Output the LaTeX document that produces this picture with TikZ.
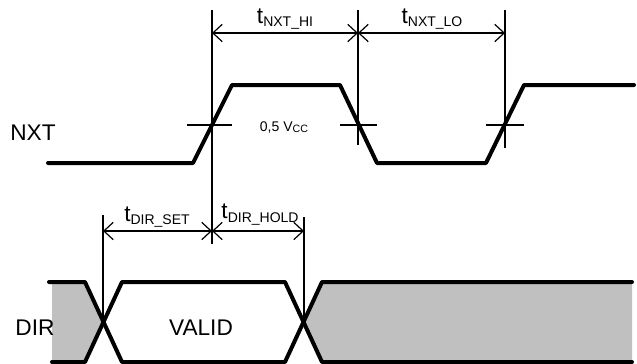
\documentclass[tikz,border=0pt]{standalone}
\usepackage{fontspec}
\setmainfont{Liberation Sans}
\usetikzlibrary{arrows.meta}
\definecolor{dirgray}{RGB}{192,192,192}
\newcommand{\tlabel}[1]{t\raisebox{-2.5pt}{\fontsize{10.5}{12}\selectfont #1}}

\tikzset{every picture/.style={line width=0.75pt}}
\tikzset{
	wave/.style={line width=3pt, line join=round, line cap=round},
	guide/.style={line width=0.9pt},
	dimline/.style={line width=0.9pt, {Straight Barb[length=7pt,width=13pt]}-{Straight Barb[length=7pt,width=13pt]}},
	siglabel/.style={anchor=base, font=\fontsize{17}{20}\selectfont}
}

\begin{document}
\begin{tikzpicture}[x=0.75pt,y=0.75pt,yscale=-1,xscale=1]
	\useasboundingbox (0,0) rectangle (637,364);

	%Shape: DIR undefined regions
	\fill [dirgray] (52,282) -- (85,282) -- (103.5,322) -- (85,362) -- (52,362) -- cycle ;
	\fill [dirgray] (303.5,322) -- (322,282) -- (632,282) -- (632,362) -- (322,362) -- cycle ;

	%Straight Lines: NXT waveform
	\draw [wave] (48,163) -- (193,163) -- (232,85) -- (340,85) -- (377,163) -- (486,163) -- (524,85) -- (634,85) ;
	%Straight Lines: DIR waveform
	\draw [wave] (49,282) -- (85,282) -- (122,362) -- (285,362) -- (322,282) -- (632,282) ;
	\draw [wave] (52,362) -- (85,362) -- (122,282) -- (285,282) -- (322,362) -- (632,362) ;

	%Straight Lines: 0,5 Vcc marks
	\draw [guide] (187,125) -- (232,125) ;
	\draw [guide] (340,125) -- (377,125) ;
	\draw [guide] (486,125) -- (524,125) ;

	%Straight Lines: timing guides
	\draw [guide] (212,10) -- (212,244) ;
	\draw [guide] (358,10) -- (358,145) ;
	\draw [guide] (505,10) -- (505,148) ;
	\draw [guide] (103,215) -- (103,322) ;
	\draw [guide] (304,217) -- (304,322) ;

	%Dimension lines
	\coordinate (hiL) at (212,33) ;
	\coordinate (hiR) at (358,33) ;
	\coordinate (loR) at (505,33) ;
	\coordinate (setL) at (103,231) ;
	\coordinate (setR) at (212,231) ;
	\coordinate (holdR) at (304,231) ;
	\draw [dimline] (hiL) -- (hiR) ;
	\draw [dimline] (hiR) -- (loR) ;
	\draw [dimline] (setL) -- (setR) ;
	\draw [dimline] (setR) -- (holdR) ;

	% Text Node
	\draw (33,140) node [siglabel] (nxt) {NXT};
	% Text Node
	\draw (35,335) node [siglabel] (dir) {DIR};
	% Text Node
	\draw (201,335) node [siglabel] (valid) {VALID};
	% Text Node
	\draw (285,23) node [siglabel] (tnxthi) {\tlabel{NXT\_HI}};
	% Text Node
	\draw (432,23) node [siglabel] (tnxtlo) {\tlabel{NXT\_LO}};
	% Text Node
	\draw (157,221) node [siglabel] (tdirset) {\tlabel{DIR\_SET}};
	% Text Node
	\draw (260,219) node [siglabel] (tdirhold) {\tlabel{DIR\_HOLD}};
	% Text Node
	\draw (284,131) node [anchor=base, font=\fontsize{10.5}{12}\selectfont] (vcc) {0,5 V\raisebox{-1.5pt}{\fontsize{8}{9}\selectfont CC}};

\end{tikzpicture}
\end{document}
